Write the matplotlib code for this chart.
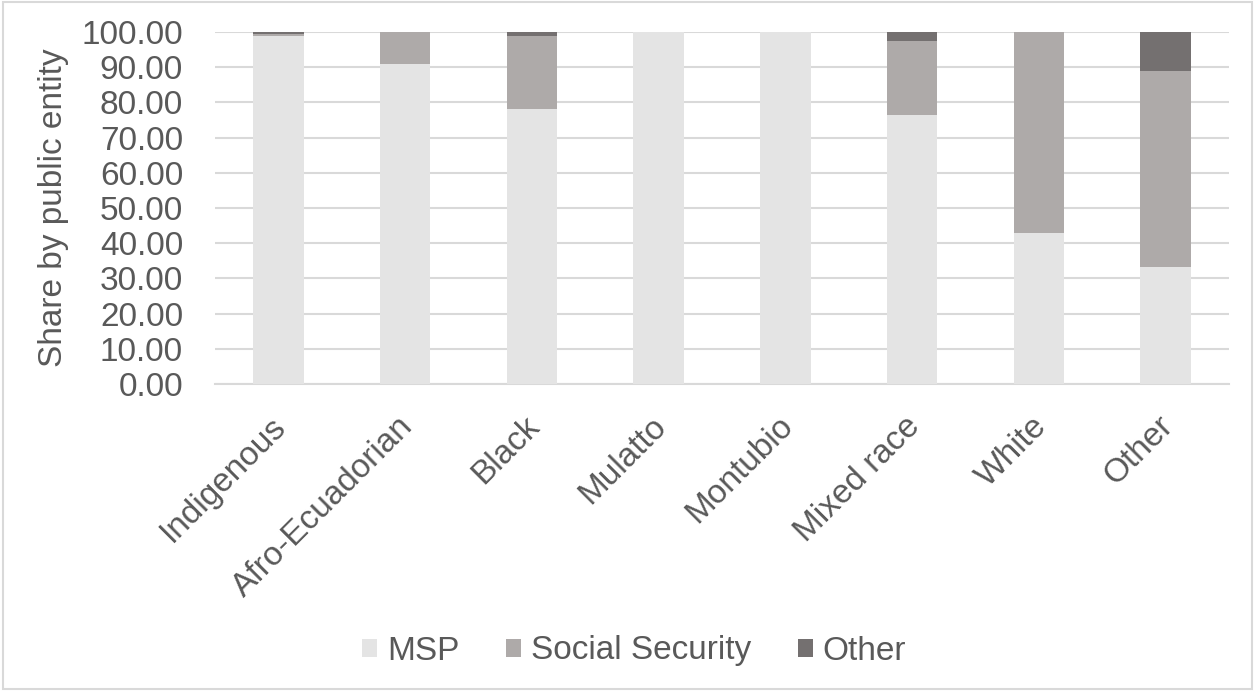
import matplotlib
matplotlib.use("Agg")
import matplotlib.pyplot as plt
import matplotlib.transforms as mtransforms
import numpy as np

categories = ["Indigenous", "Afro-Ecuadorian", "Black", "Mulatto", "Montubio",
              "Mixed race", "White", "Other"]
msp = [98.8, 90.8, 78.1, 100.0, 100.0, 76.4, 42.8, 33.3]
social_security = [0.5, 9.2, 20.9, 0.0, 0.0, 21.1, 57.2, 55.7]
other = [0.7, 0.0, 1.0, 0.0, 0.0, 2.5, 0.0, 11.0]
yticks = [0, 10, 20, 30, 40, 50, 60, 70, 80, 90, 100]

plt.rcParams['font.family'] = ['Liberation Sans', 'DejaVu Sans']
text_color = "#595959"
fs = 24

fig = plt.figure(figsize=(12.55, 6.91), dpi=100)
ax = fig.add_axes([215 / 1255, 1 - 384 / 691, (1229 - 215) / 1255, (384 - 32) / 691])

x = np.arange(len(categories))
w = 0.40
msp_a = np.array(msp)
ss_a = np.array(social_security)
ot_a = np.array(other)
ax.bar(x, msp_a, w, color="#e4e4e4", label="MSP", zorder=3)
ax.bar(x, ss_a, w, bottom=msp_a, color="#aeaaa9", label="Social Security", zorder=3)
ax.bar(x, ot_a, w, bottom=msp_a + ss_a, color="#747070", label="Other", zorder=3)

ax.set_xlim(-0.5, len(categories) - 0.5)
ax.set_ylim(0, 100)
ax.set_yticks(yticks)
ax.set_yticklabels([f"{v:.2f}" for v in yticks], fontsize=fs, color=text_color)
ax.yaxis.grid(True, color="#d9d9d9", linewidth=1.5, zorder=0)
ax.tick_params(axis="y", length=0, pad=23)
ax.tick_params(axis="x", length=0, pad=19)
ax.set_xticks(x)
ax.set_xticklabels(categories, rotation=45, ha="right", rotation_mode="anchor",
                   fontsize=fs, color=text_color)
shift = mtransforms.ScaledTranslation(-8 / 100, 0, fig.dpi_scale_trans)
for lbl in ax.get_xticklabels():
    lbl.set_transform(lbl.get_transform() + shift)
for s in ["top", "right", "left"]:
    ax.spines[s].set_visible(False)
ax.spines["bottom"].set_color("#d9d9d9")
ax.spines["bottom"].set_linewidth(1.5)
ax.set_ylabel("Share by public entity", fontsize=fs, color=text_color)
ax.yaxis.set_label_coords((69 - 215) / (1229 - 215), 0.5)

fig.legend(loc="center", bbox_to_anchor=(634 / 1255, 1 - 651 / 691), ncol=3, frameon=False,
           fontsize=fs, labelcolor=text_color, handlelength=0.45, handleheight=0.45,
           handletextpad=0.3, columnspacing=1.4)

border = plt.Rectangle((0.002, 0.003), 0.996, 0.994, transform=fig.transFigure,
                       fill=False, edgecolor="#d9d9d9", linewidth=1.5)
fig.patches.append(border)

fig.savefig("out.png", dpi=100)
